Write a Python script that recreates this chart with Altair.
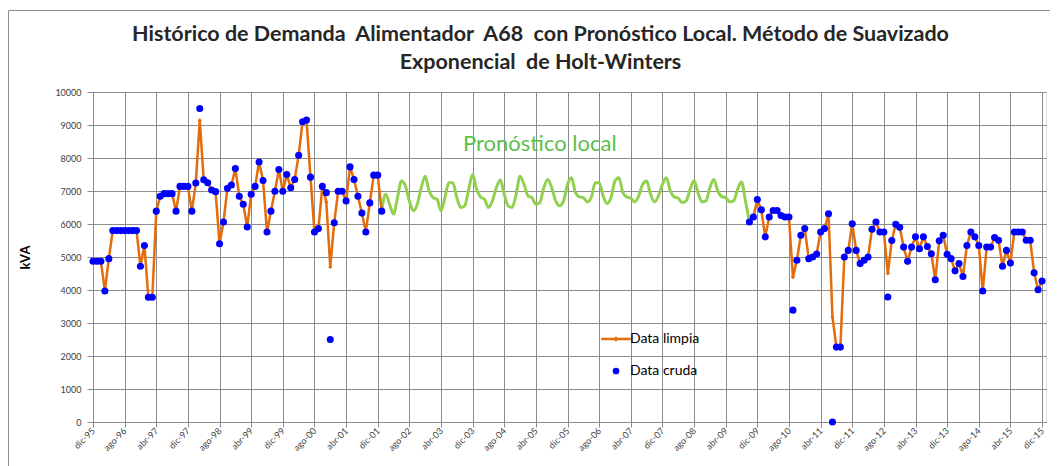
import altair as alt
import pandas as pd

# x tick labels, one every 8 months starting dic-95 (month index 0)
tick_labels = ["dic-95", "ago-96", "abr-97", "dic-97", "ago-98", "abr-99", "dic-99",
               "ago-00", "abr-01", "dic-01", "ago-02", "abr-03", "dic-03", "ago-04",
               "abr-05", "dic-05", "ago-06", "abr-07", "dic-07", "ago-08", "abr-09",
               "dic-09", "ago-10", "abr-11", "dic-11", "ago-12", "abr-13", "dic-13",
               "ago-14", "abr-15", "dic-15"]

# Historical block 1: months 0..73 (dic-95 .. ene-02)
hist1_start = 0
clean_1 = [4870, 4870, 4870, 3970, 4950, 5800, 5800, 5800, 5800, 5800, 5800, 5800,
           4720, 5350, 3780, 3780, 6390, 6840, 6920, 6920, 6920, 6390, 7140, 7140,
           7140, 6390, 7240, 9140, 7340, 7250, 7030, 6980, 5400, 6060, 7080, 7180,
           7680, 6840, 6600, 5910, 6900, 7140, 7880, 7320, 5760, 6390, 6990, 7650,
           6990, 7500, 7100, 7350, 8080, 9100, 9150, 7420, 5760, 5860, 7140, 6670,
           4700, 6040, 6990, 6990, 6700, 7730, 7350, 6840, 6330, 5760, 6640, 7480,
           7480, 6390]
raw_1 = [4870, 4870, 4870, 3970, 4950, 5800, 5800, 5800, 5800, 5800, 5800, 5800,
         4720, 5350, 3780, 3780, 6390, 6840, 6920, 6920, 6920, 6390, 7140, 7140,
         7140, 6390, 7240, 9500, 7340, 7250, 7030, 6980, 5400, 6060, 7080, 7180,
         7680, 6840, 6600, 5910, 6900, 7140, 7880, 7320, 5760, 6390, 6990, 7650,
         6990, 7500, 7100, 7350, 8080, 9100, 9150, 7420, 5760, 5860, 7140, 6950,
         2500, 6040, 6990, 6990, 6700, 7730, 7350, 6840, 6330, 5760, 6640, 7480,
         7480, 6390]

# Local forecast (Holt-Winters): months 73..166
forecast_start = 73
forecast = [6390, 6900, 6600, 6300, 6800, 7300, 7150, 6700, 6400, 6600, 7100, 7450,
            7000, 6800, 6750, 6400, 6800, 7250, 7250, 6800, 6500, 6550, 7050, 7500,
            7050, 6820, 6750, 6500, 6700, 7100, 7330, 6900, 6550, 6500, 6900, 7450,
            7200, 6850, 6800, 6600, 6650, 7100, 7350, 7100, 6700, 6550, 6700, 7200,
            7400, 6950, 6820, 6800, 6670, 6800, 7250, 7250, 6850, 6620, 6800, 7300,
            7400, 6950, 6820, 6780, 6670, 6850, 7200, 7300, 6900, 6670, 6850, 7200,
            7400, 7000, 6820, 6780, 6650, 6700, 7050, 7320, 6950, 6670, 6700, 7100,
            7350, 7000, 6830, 6800, 6670, 6700, 7050, 7270, 6700, 6060]

# Historical block 2: months 166..240 (oct-09 .. dic-15)
hist2_start = 166
clean_2 = [6060, 6210, 6740, 6430, 5610, 6210, 6410, 6410, 6260, 6210, 6210, 4390,
           4900, 5660, 5860, 4950, 5000, 5090, 5760, 5860, 6310, 3180, 2270, 2270,
           5000, 5200, 6010, 5200, 4800, 4900, 5000, 5840, 6060, 5760, 5760, 4500,
           5500, 5990, 5900, 5300, 4870, 5300, 5610, 5250, 5610, 5320, 5100, 4310,
           5490, 5660, 5080, 4950, 4580, 4800, 4410, 5350, 5760, 5610, 5350, 3970,
           5300, 5300, 5590, 5510, 4720, 5200, 4820, 5760, 5760, 5760, 5510, 5510,
           4520, 4010, 4270]
raw_2 = [6060, 6210, 6740, 6430, 5610, 6210, 6410, 6410, 6260, 6210, 6210, 3390,
         4900, 5660, 5860, 4950, 5000, 5090, 5760, 5860, 6310, 0, 2270, 2270,
         5000, 5200, 6010, 5200, 4800, 4900, 5000, 5840, 6060, 5760, 5760, 3790,
         5500, 5990, 5900, 5300, 4870, 5300, 5610, 5250, 5610, 5320, 5100, 4310,
         5490, 5660, 5080, 4950, 4580, 4800, 4410, 5350, 5760, 5610, 5350, 3970,
         5300, 5300, 5590, 5510, 4720, 5200, 4820, 5760, 5760, 5760, 5510, 5510,
         4520, 4010, 4270]

ORANGE = "#E46C0A"
BLUE = "#0000FF"
GREEN = "#92D050"
GRID = "#8C8C8C"
FONT = "Lato"
NB = "\u00a0"

clean_df = pd.DataFrame(
    {"m": list(range(hist1_start, hist1_start + len(clean_1))) + list(range(hist2_start, hist2_start + len(clean_2))),
     "kva": clean_1 + clean_2,
     "seg": ["a"] * len(clean_1) + ["b"] * len(clean_2)})
raw_df = pd.DataFrame(
    {"m": list(range(hist1_start, hist1_start + len(raw_1))) + list(range(hist2_start, hist2_start + len(raw_2))),
     "kva": raw_1 + raw_2,
     "serie": ["Data cruda"] * (len(raw_1) + len(raw_2))})
fc_df = pd.DataFrame({"m": list(range(forecast_start, forecast_start + len(forecast))), "kva": forecast})

label_js = "[" + ",".join("'%s'" % t for t in tick_labels) + "][round(datum.value / 8)]"

x_scale = alt.Scale(domain=[0, 241], nice=False, zero=False)
y_scale = alt.Scale(domain=[0, 10000], nice=False)

x_axis = alt.Axis(
    values=list(range(0, 241, 8)), labelExpr=label_js, labelAngle=-45, labelAlign="right",
    labelBaseline="middle", labelFontSize=9, labelColor="#404040", labelFont=FONT,
    tickSize=5, tickColor=GRID, domainColor=GRID, gridColor=GRID, gridWidth=1,
    labelPadding=2, title=None, labelOverlap=False)
y_axis = alt.Axis(
    values=list(range(0, 10001, 1000)), format="d", labelFontSize=9, labelColor="#404040",
    labelFont=FONT, tickSize=6, tickColor=GRID, domainColor=GRID, gridColor=GRID, gridWidth=1,
    labelPadding=6, title="kVA", titleFont=FONT, titleFontSize=13, titleFontWeight="bold",
    titleColor="#000000", titlePadding=22, labelOverlap=False)

x_enc = alt.X("m:Q", scale=x_scale, axis=x_axis)
y_enc = alt.Y("kva:Q", scale=y_scale, axis=y_axis)

frame = alt.Chart(pd.DataFrame({"k": [0]})).mark_rect(
    fill=None, stroke="#8C8C8C", strokeWidth=1).encode(
    x=alt.value(-84.5), x2=alt.value(958), y=alt.value(-81.5), y2=alt.value(420))

green = alt.Chart(fc_df).mark_line(color=GREEN, strokeWidth=3, interpolate="monotone").encode(
    x=x_enc, y=y_enc)

orange_line = alt.Chart(clean_df).mark_line(color=ORANGE, strokeWidth=2.5).encode(
    x=x_enc, y=y_enc, detail="seg:N")
orange_pts = alt.Chart(clean_df).mark_point(
    color=ORANGE, filled=True, shape="diamond", size=18, opacity=1).encode(x=x_enc, y=y_enc)

limpia_path = "M-4.4,-0.35H4.4V0.35H-4.4Z M-0.8,0L0,-0.8L0.8,0L0,0.8Z"
blue_pts = alt.Chart(raw_df).mark_point(filled=True, opacity=1, size=50, strokeWidth=0).encode(
    x=x_enc, y=y_enc,
    color=alt.Color("serie:N", scale=alt.Scale(domain=["Data limpia", "Data cruda"], range=[ORANGE, BLUE]),
                    legend=alt.Legend(title=None, orient="none", legendX=516, legendY=240,
                                      labelFont=FONT, labelFontSize=14, labelColor="#000000",
                                      symbolSize=45, labelOffset=7, rowPadding=18, padding=0,
                                      symbolStrokeWidth=0)),
    shape=alt.Shape("serie:N", scale=alt.Scale(domain=["Data limpia", "Data cruda"], range=[limpia_path, "circle"]),
                    legend=None))

note = alt.Chart(pd.DataFrame({"t": ["Pronóstico local"]})).mark_text(
    color="#5CC04A", fontSize=22, font=FONT, align="center", baseline="alphabetic").encode(
    x=alt.XDatum(113, type="quantitative", scale=x_scale, axis=x_axis),
    y=alt.YDatum(8200, type="quantitative", scale=y_scale, axis=y_axis),
    text="t:N")

title_lines = ["Histórico de Demanda" + NB + " Alimentador" + NB + " A68" + NB + " con Pronóstico Local. Método de Suavizado",
               "Exponencial" + NB + " de Holt-Winters"]

chart = alt.layer(frame, green, orange_line, orange_pts, blue_pts, note).properties(
    width=953, height=330,
    title=alt.Title(title_lines, font=FONT, fontSize=21.5, fontWeight="bold", color="#262626",
                    lineHeight=28, anchor="middle", dx=-29, offset=-63),
    autosize=alt.AutoSizeParams(type="none"),
    padding={"left": 85, "top": 84, "right": 4, "bottom": 50},
).configure_view(stroke=None).configure(background="white")

chart.save("out.html", embed_options={"renderer": "svg", "actions": False})
